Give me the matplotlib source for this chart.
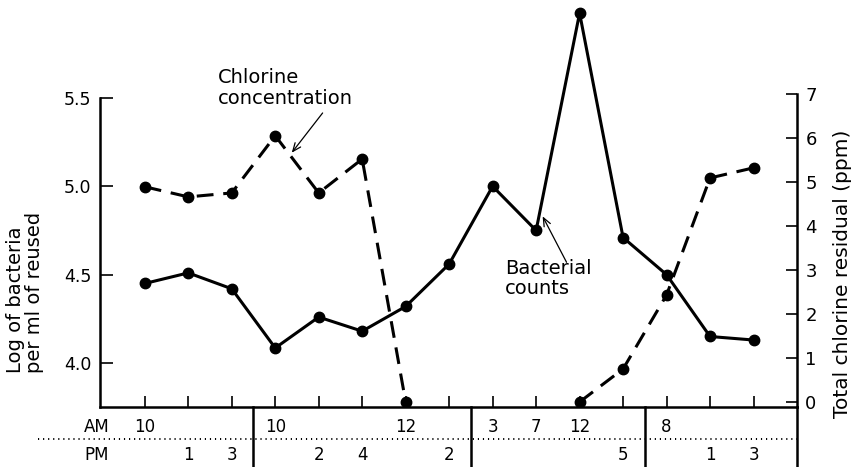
import numpy as np
import matplotlib
matplotlib.use("Agg")
import matplotlib.pyplot as plt
from matplotlib.transforms import blended_transform_factory

# ---- data ----
time_index = list(range(15))
bacteria_log = [4.45, 4.51, 4.42, 4.085, 4.26, 4.18, 4.32, 4.56, 5.00, 4.75,
                5.98, 4.71, 4.50, 4.15, 4.13]
chlorine_ppm = [4.89, 4.66, 4.75, 6.05, 4.75, 5.52, 0.0, np.nan, np.nan, np.nan,
                0.0, 0.75, 2.43, 5.09, 5.32]

am_pos = [0, 3, 6, 8, 9, 10, 12]
am_labels = ["10", "10", "12", "3", "7", "12", "8"]
pm_pos = [1, 2, 4, 5, 7, 11, 13, 14]
pm_labels = ["1", "3", "2", "4", "2", "5", "1", "3"]
day_breaks = [2.5, 7.5, 11.5, 15.0]

left_ticks = [4.0, 4.5, 5.0, 5.5]
right_ticks = [0, 1, 2, 3, 4, 5, 6, 7]

plt.rcParams['font.family'] = ['DejaVu Sans']

W, H = 859, 467
fig = plt.figure(figsize=(W / 100, H / 100), dpi=100)
ax_left, ax_right_px, ax_bottom_px, ax_top_px = 100, 797, 407, 5
ax = fig.add_axes([ax_left / W, (H - ax_bottom_px) / H,
                   (ax_right_px - ax_left) / W, (ax_bottom_px - ax_top_px) / H])
ax2 = ax.twinx()

ax.set_xlim(-1.03, 15.0)
ax.set_ylim(3.751, 6.026)
ax2.set_ylim(-0.114, 9.02)

lw = 2.2
ms = 7.5
ax.plot(time_index, bacteria_log, color='black', lw=lw, marker='o', ms=ms,
        solid_joinstyle='miter', zorder=3)
ax2.plot(time_index, chlorine_ppm, color='black', lw=lw, marker='o', ms=ms,
         dashes=(5.5, 3.2), zorder=3)

# spines
for a in (ax, ax2):
    a.spines['top'].set_visible(False)
ax.spines['right'].set_visible(False)
ax2.spines['left'].set_visible(False)
ax2.spines['bottom'].set_visible(False)
for a in (ax, ax2):
    for s in a.spines.values():
        s.set_linewidth(1.8)
ax.spines['left'].set_bounds(3.751, 5.5)
ax2.spines['right'].set_bounds(-0.114, 7)

ax.set_yticks(left_ticks)
ax.set_yticklabels([f"{v:.1f}" for v in left_ticks])
ax.tick_params(axis='y', direction='in', length=9, width=1.2, labelsize=12.5, pad=6)
ax2.set_yticks(right_ticks)
ax2.tick_params(axis='y', direction='in', length=8, width=1.2, labelsize=13, pad=6)

ax.set_xticks(time_index)
ax.set_xticklabels([])
ax.tick_params(axis='x', direction='in', length=8, width=1.2)

fig.text(25 / W, (H - 373) / H, "Log of bacteria\nper ml of reused", rotation=90,
         ha='center', va='bottom', multialignment='left', fontsize=14,
         linespacing=1.05)
fig.text(843 / W, (H - 418) / H, "Total chlorine residual (ppm)", rotation=90,
         ha='center', va='bottom', fontsize=14.5)

# time table below axis
tr = blended_transform_factory(ax.transData, ax.transAxes)
y_am, y_dot, y_pm, y_bot = -0.05, -0.080, -0.119, -0.16
fs_t = 12
for p, l in zip(am_pos, am_labels):
    ax.text(p, y_am, l, transform=tr, ha='center', va='center', fontsize=fs_t, clip_on=False)
for p, l in zip(pm_pos, pm_labels):
    ax.text(p, y_pm, l, transform=tr, ha='center', va='center', fontsize=fs_t, clip_on=False)
ax.text(-1.1, y_am, "AM", transform=tr, ha='center', va='center', fontsize=fs_t, clip_on=False)
ax.text(-1.1, y_pm, "PM", transform=tr, ha='center', va='center', fontsize=fs_t, clip_on=False)
ax.plot([-2.45, 15.0], [y_dot, y_dot], transform=tr, color='black', lw=1.4,
        ls=(0, (0.6, 2.0)), clip_on=False)
for b in day_breaks:
    ax.plot([b, b], [0, y_bot], transform=tr, color='black', lw=1.8, clip_on=False)

# annotations
arrow_style = dict(arrowstyle='->,head_length=0.6,head_width=0.25', color='black',
                   lw=0.9, shrinkA=0, shrinkB=0)
ax.text(1.68, 5.557, "Chlorine\nconcentration", fontsize=14, ha='left', va='center',
        linespacing=1.1)
ax.annotate("", xy=(3.38, 5.19), xytext=(4.09, 5.415), arrowprops=arrow_style)
ax.text(8.28, 4.478, "Bacterial\ncounts", fontsize=14, ha='left', va='center',
        linespacing=1.1)
ax.annotate("", xy=(9.15, 4.83), xytext=(9.70, 4.57), arrowprops=arrow_style)

fig.savefig("out.png", dpi=100)
